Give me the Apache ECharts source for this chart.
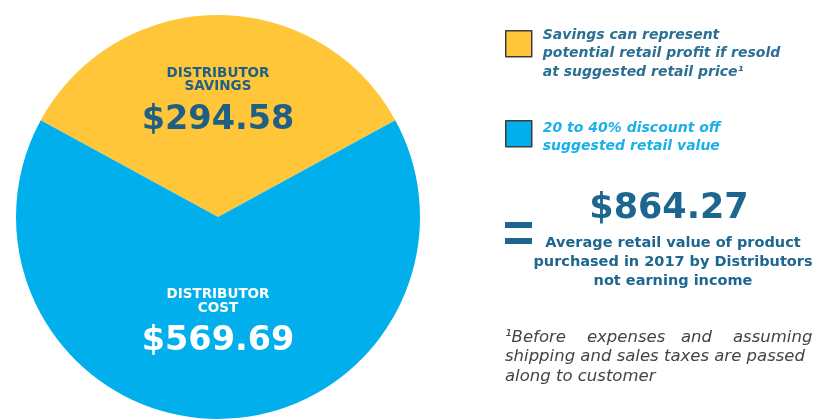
<!DOCTYPE html>
<html>
<head>
<meta charset="utf-8">
<script src="https://cdn.jsdelivr.net/npm/echarts@6/dist/echarts.min.js"></script>
<style>
  html, body { margin: 0; padding: 0; background: #fff; }
  #chart { width: 824px; height: 420px; }
</style>
</head>
<body>
<div id="chart"></div>
<script>
// slices
const sliceNames = ["Distributor Savings", "Distributor Cost"];
const sliceLabels = [["DISTRIBUTOR", "SAVINGS"], ["DISTRIBUTOR", "COST"]];
const sliceValues = [294.58, 569.69];
const sliceColors = ["#ffc63a", "#00afec"];

// legend notes next to the swatches
const notes = [
  ["Savings can represent", "potential retail profit if resold", "at suggested retail price\u00b9"],
  ["20 to 40% discount off", "suggested retail value"]
];
const noteColors = ["#2b6f95", "#1bb0e8"];

const totalLines = ["Average retail value of product", "purchased in 2017 by Distributors", "not earning income"];
const footnote = ["\u00b9Before    expenses   and    assuming", "shipping and sales taxes are passed", "along to customer"];

const dark = "#1d6690";
const font = "'DejaVu Sans', sans-serif";

const total = sliceValues.reduce((a, b) => a + b, 0);
const money = v => "$" + v.toFixed(2);

let chart = echarts.init(document.getElementById("chart"));

let option = {
  animation: false,
  legend: {
    orient: "vertical",
    left: 505,
    top: 11,
    padding: 0,
    itemWidth: 26,
    itemHeight: 26,
    itemGap: 33,
    icon: "rect",
    selectedMode: false,
    itemStyle: { borderColor: "#3c3c3c", borderWidth: 1.5 },
    textStyle: {
      fontFamily: font,
      fontStyle: "italic",
      fontWeight: "bold",
      fontSize: 14,
      rich: {
        s: { lineHeight: 20, fontSize: 10 },
        s2: { lineHeight: 7, fontSize: 6 },
        t: { lineHeight: 18.5, fontSize: 14, fontFamily: font, fontStyle: "italic", fontWeight: "bold" }
      }
    },
    formatter: function(name) {
      let i = sliceNames.indexOf(name);
      let lines = notes[i].map(l => "{t|" + l + "}");
      return (i === 0 ? "{s| }\n" : "{s2| }\n") + lines.join("\n");
    },
    data: sliceNames.map((n, i) => ({
      name: n,
      textStyle: { color: noteColors[i], padding: [0, 0, 0, 6] }
    }))
  },
  graphic: [
    // "=" sign
    { type: "rect", shape: { x: 505, y: 222, width: 27, height: 6 }, style: { fill: dark } },
    { type: "rect", shape: { x: 505, y: 238, width: 27, height: 6 }, style: { fill: dark } },
    {
      type: "text",
      style: {
        x: 669, y: 209, text: money(total),
        align: "center", verticalAlign: "middle",
        fill: dark, fontFamily: font, fontWeight: "bold", fontSize: 35
      }
    },
    {
      type: "text",
      style: {
        x: 673, y: 262, text: totalLines.join("\n"),
        align: "center", verticalAlign: "middle", lineHeight: 19,
        fill: dark, fontFamily: font, fontWeight: "bold", fontSize: 14.5
      }
    },
    {
      type: "text",
      style: {
        x: 505, y: 357, text: footnote.join("\n"),
        align: "left", verticalAlign: "middle", lineHeight: 19.5,
        fill: "#444", fontFamily: font, fontStyle: "italic", fontSize: 16.5
      }
    }
  ],
  series: [
    {
      type: "pie",
      center: [218, 217],
      radius: 202,
      // keep the savings wedge centred on the top
      startAngle: 90 + (sliceValues[0] / total) * 180,
      clockwise: true,
      silent: true,
      labelLine: { show: false },
      label: {
        show: true,
        position: "inside",
        fontFamily: font,
        rich: {
          n: { fontSize: 13.5, fontWeight: "bold", lineHeight: 13.5, fontFamily: font },
          v: { fontSize: 33.5, fontWeight: "bold", lineHeight: 53, fontFamily: font }
        }
      },
      data: sliceNames.map((n, i) => ({
        name: n,
        value: sliceValues[i],
        itemStyle: { color: sliceColors[i] },
        label: {
          color: i === 0 ? "#1f5f86" : "#fff",
          padding: i === 0 ? [0, 0, 13, 0] : [14, 0, 0, 0],
          formatter: "{n|" + sliceLabels[i][0] + "}\n{n|" + sliceLabels[i][1] + "}\n{v|" + money(sliceValues[i]) + "}",
          rich: {
            n: { color: i === 0 ? "#1f5f86" : "#fff" },
            v: { color: i === 0 ? "#1f5f86" : "#fff" }
          }
        }
      }))
    }
  ]
};

chart.setOption(option);
</script>
</body>
</html>
